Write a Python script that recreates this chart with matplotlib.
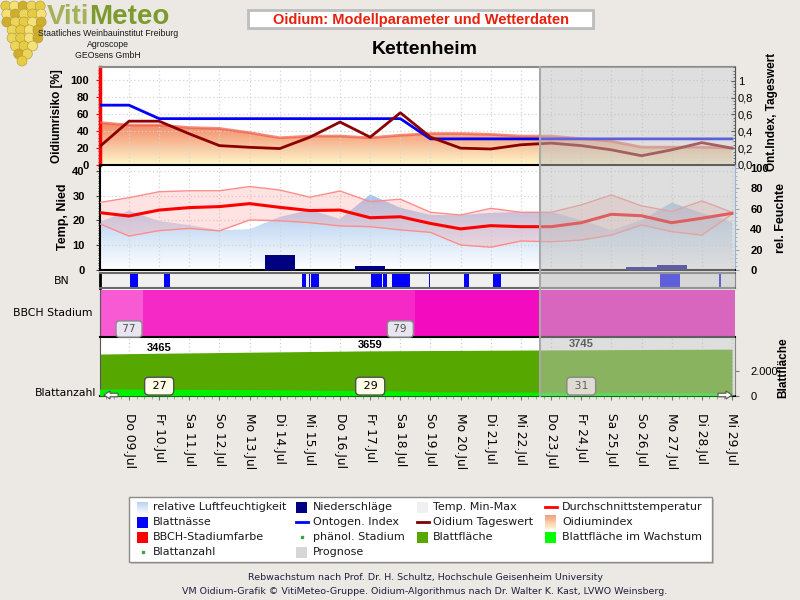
import numpy as np
import matplotlib
matplotlib.use("Agg")
import matplotlib.pyplot as plt
from matplotlib.patches import Rectangle, Circle, FancyArrow
from matplotlib.lines import Line2D
from matplotlib.colors import LinearSegmentedColormap, to_rgb
from matplotlib.ticker import MultipleLocator
import matplotlib.transforms as mtrans

# ---------------- data ----------------
day_labels = ["Do 09.Jul", "Fr 10.Jul", "Sa 11.Jul", "So 12.Jul", "Mo 13.Jul",
              "Di 14.Jul", "Mi 15.Jul", "Do 16.Jul", "Fr 17.Jul", "Sa 18.Jul",
              "So 19.Jul", "Mo 20.Jul", "Di 21.Jul", "Mi 22.Jul", "Do 23.Jul",
              "Fr 24.Jul", "Sa 25.Jul", "So 26.Jul", "Mo 27.Jul", "Di 28.Jul",
              "Mi 29.Jul"]
# day offsets relative to 09.Jul (08.Jul .. 29.Jul)
days = [-1, 0, 1, 2, 3, 4, 5, 6, 7, 8, 9, 10, 11, 12, 13, 14, 15, 16, 17, 18, 19, 20]
prognose_start = 13.63   # 22.Jul afternoon

oidium_index = [50, 47, 47, 44, 43, 38, 32, 34, 34, 32, 35, 37, 37, 36, 34, 34, 31, 28, 21, 21, 21, 20]
oidium_tageswert = [0.21, 0.52, 0.52, 0.37, 0.23, 0.21, 0.195, 0.33, 0.51, 0.33, 0.62,
                    0.33, 0.20, 0.19, 0.24, 0.26, 0.23, 0.18, 0.11, 0.18, 0.265, 0.20]
ontogen_index = [0.71, 0.71, 0.55, 0.55, 0.55, 0.55, 0.55, 0.55, 0.55, 0.55, 0.55,
                 0.31, 0.31, 0.31, 0.31, 0.31, 0.31, 0.31, 0.31, 0.31, 0.31, 0.31]

temp_mean = [23.2, 21.8, 24.2, 25.2, 25.6, 26.8, 25.3, 24.0, 24.2, 21.1, 21.5,
             18.8, 16.6, 17.9, 17.5, 17.5, 19.1, 22.5, 21.9, 19.1, 20.9, 22.9]
temp_max = [27.2, 29.2, 31.6, 32.0, 32.0, 33.7, 32.3, 29.4, 31.9, 27.6, 28.6,
            23.3, 22.2, 24.9, 23.3, 23.3, 26.3, 30.3, 25.9, 23.6, 27.9, 23.3]
temp_min = [18.8, 13.7, 15.9, 16.8, 15.8, 20.2, 19.9, 19.1, 17.8, 17.5, 16.2,
            15.2, 10.1, 9.2, 11.7, 11.4, 12.1, 14.1, 18.2, 15.5, 14.1, 22.5]
rel_humidity = [47, 58, 48, 44, 39, 40, 52, 59, 50, 74, 61, 54, 54, 56, 57, 57, 49, 39, 49, 66, 56, 47]
precipitation = [0, 0, 0, 0, 0, 0, 6.0, 0, 0, 1.6, 0, 0, 0, 0, 0, 0, 0, 0, 1.3, 2.2, 0, 0]

# leaf wetness periods, hours after 09.Jul 00:00
leaf_wetness = [(1, 7), (28, 33), (138, 141), (143, 144), (145, 151), (193, 201), (202, 205),
                (209, 224), (239, 240), (267, 271), (290, 296), (423, 439), (470, 471)]

bbch_start = [-1.0, 0.46, 9.49]
bbch_end = [0.46, 9.49, 20.1]
bbch_colors = ["#f75ad3", "#f52ac6", "#f30cbf"]
bbch_label_days = [0, 9]
bbch_labels = ["77", "79"]

leaf_area = [3400, 3432, 3465, 3493, 3521, 3549, 3577, 3604, 3631, 3659, 3672,
             3684, 3696, 3709, 3721, 3733, 3745, 3756, 3767, 3778, 3788, 3798]
leaf_growth = [560, 560, 550, 540, 530, 520, 500, 480, 460, 440, 420,
               340, 330, 320, 320, 310, 300, 300, 290, 290, 280, 280]
leaf_label_days = [1, 8, 15]
leaf_area_labels = [3465, 3659, 3745]
leaf_count_labels = [27, 29, 31]

# ---------------- figure ----------------
W, H = 800, 600
BG = "#ece9e4"
fig = plt.figure(figsize=(8, 6), dpi=100, facecolor=BG)

XMIN, XMAX = -0.962, 20.1
TICKFONT = dict(family="Liberation Sans", weight="bold", size=8)
NORMFONT = dict(family="Liberation Sans", size=8)


def add_ax(x0, y0, x1, y1, **kw):
    return fig.add_axes([x0 / W, 1 - y1 / H, (x1 - x0) / W, (y1 - y0) / H], **kw)


def setup_x(ax, grid=True):
    ax.set_xlim(XMIN, XMAX)
    ax.set_xticks(range(0, 21))
    ax.tick_params(axis="x", length=0, labelbottom=False)
    if grid:
        ax.grid(True, axis="x", color="#d4d4d4", ls=(0, (1, 2)), lw=0.9)


def gradient_fill(ax, x, y, c_top, c_bot, y_top, zorder=1):
    poly = ax.fill_between(x, 0, y, facecolor="none", edgecolor="none", zorder=zorder)
    cmap = LinearSegmentedColormap.from_list("g", [c_bot, c_top])
    grad = np.linspace(0, 1, 256).reshape(-1, 1)
    im = ax.imshow(grad, extent=[x[0], x[-1], 0, y_top], origin="lower",
                   aspect="auto", cmap=cmap, zorder=zorder, interpolation="bilinear")
    im.set_clip_path(poly.get_paths()[0], transform=ax.transData)
    return im


# white background behind all panels
axbg = add_ax(100, 67, 735, 396)
axbg.set_xticks([]); axbg.set_yticks([])
for s in axbg.spines.values():
    s.set_visible(False)

# ---------- top panel: Oidium ----------
ax1 = add_ax(100, 67, 735, 165)
ax1.patch.set_visible(False)
setup_x(ax1)
ax1.set_ylim(0, 115.3)
ax1.set_yticks([0, 20, 40, 60, 80, 100], labels=["0", "20", "40", "60", "80", "100"], **TICKFONT)
ax1.yaxis.set_minor_locator(MultipleLocator(4))
ax1.grid(True, axis="y", color="#d4d4d4", ls=(0, (1, 2)), lw=0.9)
ax1.tick_params(axis="y", which="major", length=3, pad=5, color="#ff0000")
ax1.tick_params(axis="y", which="minor", length=1.5, color="#ff0000")
gradient_fill(ax1, days, oidium_index, "#f07656", "#fff8cc", 56)
ax1.plot(days, oidium_index, color="#f05a46", lw=2, alpha=0.7, zorder=3)
ax1.set_xlim(XMIN, XMAX); ax1.set_ylim(0, 115.3)
ax1.spines["left"].set_color("#ff0000"); ax1.spines["left"].set_linewidth(2.5)
ax1.spines["bottom"].set_color("black"); ax1.spines["bottom"].set_linewidth(1.5)
ax1.spines["top"].set_color("#8a8a8a"); ax1.spines["top"].set_linewidth(1.5)
ax1.spines["right"].set_color("#555555")

ax1b = ax1.twinx()
ax1b.set_xlim(XMIN, XMAX)
ax1b.set_ylim(0, 1.163)
ax1b.plot(days, oidium_tageswert, color="#8b0000", lw=2, zorder=4)
ax1b.plot(days, ontogen_index, color="#0000ff", lw=2, zorder=3)
ax1b.set_yticks([0, 0.2, 0.4, 0.6, 0.8, 1.0],
                labels=["0,0", "0,2", "0,4", "0,6", "0,8", "1"], **NORMFONT)
ax1b.yaxis.set_minor_locator(MultipleLocator(0.04))
ax1b.tick_params(axis="y", which="major", length=3, pad=2, direction="in")
ax1b.tick_params(axis="y", which="minor", length=1.5, direction="in")
for s in ["left", "top", "bottom"]:
    ax1b.spines[s].set_visible(False)
ax1b.spines["right"].set_color("#555555")

# ---------- middle panel: temperature / precipitation / humidity ----------
ax2 = add_ax(100, 165, 735, 270)
ax2r = ax2.twinx()
ax2.set_zorder(ax2r.get_zorder() + 1)
ax2.patch.set_visible(False)
ax2r.patch.set_visible(False)
setup_x(ax2)
ax2r.set_xlim(XMIN, XMAX)
gradient_fill(ax2r, days, rel_humidity, "#7eaee6", "#ffffff", 100)
ax2r.set_xlim(XMIN, XMAX); ax2r.set_ylim(0, 102.9)
ax2r.set_yticks([0, 20, 40, 60, 80, 100], labels=["0", "20", "40", "60", "80", "100"], **TICKFONT)
ax2r.yaxis.set_minor_locator(MultipleLocator(4))
ax2r.tick_params(axis="y", which="major", length=3, pad=8, color="#8aa8d0")
ax2r.tick_params(axis="y", which="minor", length=1.5, color="#8aa8d0")

ax2.set_ylim(0, 42.4)
ax2.fill_between(days, temp_min, temp_max, color="#ff9a9a", alpha=0.28, lw=0, zorder=2)
ax2.plot(days, temp_max, color="#ff8c8c", lw=1, zorder=3)
ax2.plot(days, temp_min, color="#ff8c8c", lw=1, zorder=3)
ax2.plot(days, temp_mean, color="#ff0000", lw=2.2, zorder=5)
ax2.bar(days, precipitation, width=1.0, color="#000080", zorder=4)
ax2.set_xlim(XMIN, XMAX)
ax2.set_yticks([0, 10, 20, 30, 40], labels=["0", "10", "20", "30", "40"], **TICKFONT)
ax2.yaxis.set_minor_locator(MultipleLocator(1))
ax2.grid(True, axis="y", color="#d4d4d4", ls=(0, (1, 2)), lw=0.9)
ax2.tick_params(axis="y", which="major", length=3, pad=8, color="#444444")
ax2.tick_params(axis="y", which="minor", length=1.5, color="#444444")
for a in (ax2, ax2r):
    a.spines["top"].set_visible(False)
ax2.spines["left"].set_linewidth(1.5)
ax2.spines["bottom"].set_linewidth(1.5)
ax2.spines["right"].set_visible(False)
ax2r.spines["left"].set_visible(False)
ax2r.spines["bottom"].set_visible(False)
ax2r.spines["right"].set_color("#9ab4d8")

# ---------- BN strip ----------
ax3 = add_ax(100, 273, 735, 288)
ax3.set_facecolor("#f0f0f0")
setup_x(ax3, grid=False)
ax3.set_ylim(0, 1)
ax3.set_yticks([])
for s, e in leaf_wetness:
    ax3.axvspan(s / 24, e / 24, ymin=0.06, ymax=0.94, color="#0000ff", lw=0)
ax3.spines["left"].set_linewidth(2)
ax3.spines["left"].set_color("black")
for s in ["top", "bottom"]:
    ax3.spines[s].set_color("#6a6a6a"); ax3.spines[s].set_linewidth(1.5)
ax3.spines["right"].set_color("#888888")

# ---------- BBCH strip ----------
ax4 = add_ax(100, 290, 735, 337)
setup_x(ax4, grid=False)
ax4.set_ylim(0, 1)
ax4.set_yticks([])
for s, e, c in zip(bbch_start, bbch_end, bbch_colors):
    ax4.axvspan(s, e, color=c, lw=0)
for d, t in zip(bbch_label_days, bbch_labels):
    ax4.text(d, 0.17, " " + t + " ", ha="center", va="center", fontsize=7.5, color="#505050",
             bbox=dict(boxstyle="round,pad=0.3,rounding_size=0.35", fc="#e8e4f0", ec="#8a8a8a", lw=1),
             zorder=5)
for s in ["top", "right"]:
    ax4.spines[s].set_visible(False)
ax4.spines["bottom"].set_linewidth(1.5)
ax4.spines["left"].set_color("#555555")

# ---------- leaf panel ----------
ax5 = add_ax(100, 338, 735, 396)
ax5.patch.set_visible(False)
ax5.set_xlim(XMIN, XMAX)
ax5.set_ylim(0, 4700)
ax5.grid(True, axis="x", color="#cfcfcf", ls=(0, (1, 2)), lw=0.9, zorder=0)
ax5.fill_between(days, 0, leaf_area, color="#56a800", lw=0, zorder=2)
ax5.fill_between(days, 0, leaf_growth, color="#00f000", lw=0, zorder=3)
ax5.set_xlim(XMIN, XMAX)
for d, v in zip(leaf_label_days, leaf_area_labels):
    ax5.text(d, v + 40, str(v), ha="center", va="bottom", fontsize=8,
             family="Liberation Sans", weight="bold", zorder=5)
for d, v in zip(leaf_label_days, leaf_count_labels):
    ax5.text(d, 0.17, " " + str(v) + " ", ha="center", va="center", fontsize=8, color="black",
             transform=mtrans.blended_transform_factory(ax5.transData, ax5.transAxes),
             bbox=dict(boxstyle="round,pad=0.35,rounding_size=0.35", fc="#fffce8", ec="#505050", lw=1),
             zorder=6)
ax5.set_xticks(range(0, 21), labels=day_labels, rotation=270, fontsize=8.8,
               ha="center", va="top")
ax5.xaxis.set_minor_locator(MultipleLocator(0.25))
ax5.tick_params(axis="x", which="major", length=3, pad=9, color="#777777")
ax5.tick_params(axis="x", which="minor", length=2, color="#999999")
ax5.yaxis.tick_right()
ax5.set_yticks([0, 2000], labels=["0", "2.000"], **NORMFONT)
ax5.tick_params(axis="y", length=3, pad=8, color="#777777")
ax5.spines["top"].set_visible(False)
ax5.spines["bottom"].set_linewidth(1.5)
ax5.spines["left"].set_color("#555555")
ax5.spines["right"].set_color("#888888")

# ---------- prognosis overlay ----------
btrans = mtrans.blended_transform_factory(ax5.transData, fig.transFigure)
fig.add_artist(Rectangle((prognose_start, 1 - 396 / H), XMAX - prognose_start, (396 - 67) / H,
                         transform=btrans, facecolor="#bebebe", alpha=0.5, lw=0, zorder=15))
fig.add_artist(Line2D([prognose_start, prognose_start], [1 - 396 / H, 1 - 67 / H],
                      transform=btrans, color="#a8a8a8", lw=1.5, zorder=16))

# ---------- overlay (pixel coordinates) ----------
ov = fig.add_axes([0, 0, 1, 1], zorder=20)
ov.set_xlim(0, W); ov.set_ylim(H, 0)
ov.axis("off")

# arrows at the bottom corners
ov.add_patch(FancyArrow(118, 395, -14, 0, width=3.5, head_width=8, head_length=6,
                        length_includes_head=True, fc="white", ec="#555555", lw=0.8))
ov.add_patch(FancyArrow(718, 395, 14, 0, width=3.5, head_width=8, head_length=6,
                        length_includes_head=True, fc="white", ec="#555555", lw=0.8))

# logo (grape cluster + name)
grape_rows = [(6, 5, 23), (14, 5, 24), (22, 5, 24), (30, 4, 25), (38, 4, 25),
              (46, 3, 24), (54, 2, 23), (61, 1, 22)]
gcols = ["#e6cc44", "#f3e27a", "#cfae2e", "#ead65c"]
k = 0
for gy, n, cx in grape_rows:
    for i in range(n):
        gx = cx + (i - (n - 1) / 2) * 8.6
        ov.add_patch(Circle((gx, gy), 5.0, fc=gcols[k % 4], ec="#b8962a", lw=0.4))
        k += 1
tv = ov.text(47, 23.5, "Viti", fontsize=20, weight="bold", family="Liberation Sans",
             color="#a3b258", ha="left", va="baseline")
fig.canvas.draw()
bb = tv.get_window_extent()
x_end = bb.x1 / fig.dpi * 100
ov.text(x_end, 23.5, "Meteo", fontsize=20, weight="bold", family="Liberation Sans",
        color="#7d9a2c", ha="left", va="baseline")
for ty, t in [(34, "Staatliches Weinbauinstitut Freiburg"), (44.5, "Agroscope"), (55, "GEOsens GmbH")]:
    ov.text(108, ty, t, fontsize=6.3, family="Liberation Sans", ha="center", va="center", color="#1a1a1a")

# title
ov.add_patch(Rectangle((250, 12), 345, 18, fc="#c8c8c8", ec="none"))
ov.add_patch(Rectangle((248, 10), 345, 18, fc="white", ec="#bdbdbd", lw=2))
ov.text(421, 20, "Oidium: Modellparameter und Wetterdaten", fontsize=10.5, weight="bold",
        family="Liberation Sans", color="#e8200c", ha="center", va="center")
ov.text(425, 49, "Kettenheim", fontsize=14, weight="bold", family="Liberation Sans",
        color="black", ha="center", va="center")

# axis labels
ov.text(57, 116, "Oidiumrisiko [%]", rotation=90, ha="center", va="center",
        fontsize=8.5, weight="bold", family="Liberation Sans")
ov.text(63, 217, "Temp, Nied", rotation=90, ha="center", va="center",
        fontsize=9, weight="bold", family="Liberation Sans")
ov.text(772, 112, "Ont.Index, Tageswert", rotation=90, ha="center", va="center",
        fontsize=8.5, weight="bold", family="Liberation Sans")
ov.text(781, 218, "rel. Feuchte", rotation=90, ha="center", va="center",
        fontsize=9, weight="bold", family="Liberation Sans")
ov.text(783, 368, "Blattfläche", rotation=90, ha="center", va="center",
        fontsize=8.5, weight="bold", family="Liberation Sans")
ov.text(62, 281, "BN", ha="center", va="center", fontsize=7.8)
ov.text(53, 313, "BBCH Stadium", ha="center", va="center", fontsize=7.8)
ov.text(96, 393, "Blattanzahl", ha="right", va="center", fontsize=7.8)

# legend
ov.add_patch(Rectangle((131, 499), 583, 65, fc="#c9c6c2", ec="none"))
ov.add_patch(Rectangle((129, 497), 583, 65, fc="white", ec="#8c8c8c", lw=1))
rows = [507, 522, 537, 552]
cols_sw = [137, 296, 417, 545]
cols_tx = [153, 313, 433, 562]


def sq(c, r, color):
    ov.add_patch(Rectangle((cols_sw[c], rows[r] - 5.5), 11, 11, fc=color, ec="none"))


def grad_sq(c, r, ctop, cbot, hgt=11):
    a, b = np.array(to_rgb(ctop)), np.array(to_rgb(cbot))
    n = 12
    for i in range(n):
        f = i / (n - 1)
        ov.add_patch(Rectangle((cols_sw[c], rows[r] - hgt / 2 + i * hgt / n), 11, hgt / n + 0.3,
                               fc=tuple(a * (1 - f) + b * f), ec="none"))


def line_sw(c, r, color):
    ov.plot([cols_sw[c], cols_sw[c] + 12], [rows[r], rows[r]], color=color, lw=2)


def dot_sw(c, r):
    ov.plot([cols_sw[c] + 5.5], [rows[r]], marker="s", ms=1.5, color="#40a040", lw=0)


grad_sq(0, 0, "#b4cff0", "#f4f8fd")
sq(0, 1, "#0000ff")
sq(0, 2, "#ff0000")
dot_sw(0, 3)
sq(1, 0, "#000080")
line_sw(1, 1, "#0000ff")
dot_sw(1, 2)
sq(1, 3, "#d6d6d6")
sq(2, 0, "#f0f0f0")
line_sw(2, 1, "#800000")
sq(2, 2, "#56a800")
line_sw(3, 0, "#ff0000")
grad_sq(3, 1, "#f2a084", "#fff4cc", hgt=14)
sq(3, 2, "#00ff00")
legend_texts = [
    (0, 0, "relative Luftfeuchtigkeit"), (0, 1, "Blattnässe"), (0, 2, "BBCH-Stadiumfarbe"),
    (0, 3, "Blattanzahl"), (1, 0, "Niederschläge"), (1, 1, "Ontogen. Index"),
    (1, 2, "phänol. Stadium"), (1, 3, "Prognose"), (2, 0, "Temp. Min-Max"),
    (2, 1, "Oidium Tageswert"), (2, 2, "Blattfläche"), (3, 0, "Durchschnittstemperatur"),
    (3, 1, "Oidiumindex"), (3, 2, "Blattfläche im Wachstum"),
]
for c, r, t in legend_texts:
    ov.text(cols_tx[c], rows[r], t, fontsize=8, ha="left", va="center", color="#1a1a1a")

# footer
ov.text(425, 578, "Rebwachstum nach Prof. Dr. H. Schultz, Hochschule Geisenheim University",
        fontsize=6.8, ha="center", va="center", color="#202040")
ov.text(425, 591, "VM Oidium-Grafik © VitiMeteo-Gruppe. Oidium-Algorithmus nach Dr. Walter K. Kast, LVWO Weinsberg.",
        fontsize=6.8, ha="center", va="center", color="#202040")

fig.savefig("out.png", dpi=100, facecolor=BG)
